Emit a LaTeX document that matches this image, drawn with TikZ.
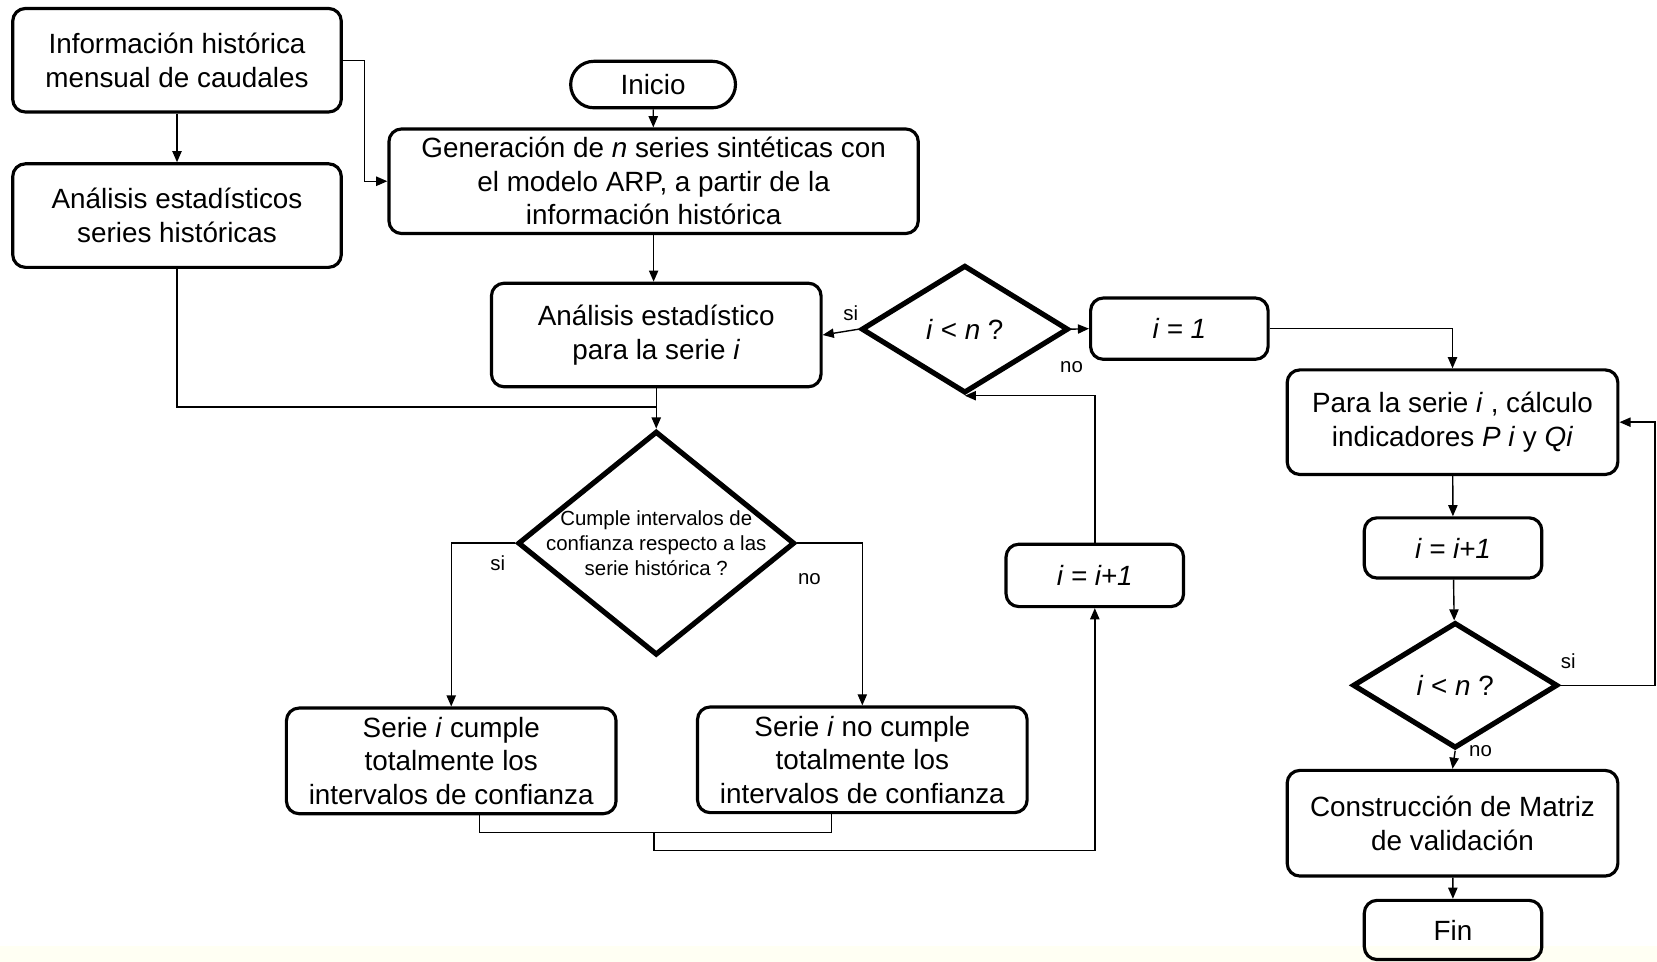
\documentclass[tikz,border=0pt]{standalone}
\usepackage{fontspec}
\setmainfont{Liberation Sans}
\usetikzlibrary{shapes.geometric,arrows.meta}
\begin{document}
\begin{tikzpicture}[x=0.02cm,y=-0.02cm,
  box/.style={draw,line width=1.7pt,rounded corners=0.24cm,align=center,inner sep=0pt,
    font=\fontsize{15}{18}\selectfont},
  dec/.style={draw,diamond,line width=2.8pt,inner sep=0pt,align=center,
    font=\fontsize{15}{18}\selectfont},
  conn/.style={line width=0.75pt},
  arr/.style={line width=0.75pt,-{Triangle[length=6pt,width=5pt]}},
  lab/.style={font=\fontsize{11}{13}\selectfont,inner sep=0pt}]
\useasboundingbox (0,0) rectangle (1568,910);
\fill[fill={rgb,255:red,255;green,255;blue,243}] (0,895) rectangle (1568,910);
% nodes
\node[box,minimum width=6.22cm,minimum height=1.96cm] (b1) at (167.5,57) {Información histórica\\mensual de caudales};
\node[box,minimum width=6.22cm,minimum height=1.96cm] (b2) at (167.5,204) {Análisis estadísticos\\series históricas};
\node[box,rounded corners=0.44cm,minimum width=3.12cm,minimum height=0.88cm] (ini) at (618,80) {Inicio};
\node[box,minimum width=10.02cm,minimum height=1.98cm] (gen) at (618.5,171.5) {Generación de \textit{n} series sintéticas con\\el modelo ARP, a partir de la\\información histórica};
\node[box,minimum width=6.24cm,minimum height=1.96cm] (ana) at (621,317) {Análisis estadístico\\para la serie \textit{i}};
\node[dec,minimum width=3.92cm,minimum height=2.42cm] (d1) at (913,311.5) {\textit{i} < \textit{n} ?};
\node[box,minimum width=3.36cm,minimum height=1.16cm] (i1) at (1116,311) {\textit{i = 1}};
\node[box,minimum width=6.26cm,minimum height=1.98cm] (para) at (1374.5,399.5) {Para la serie \textit{i} , cálculo\\indicadores \textit{P i} y \textit{Qi}};
\node[box,minimum width=3.36cm,minimum height=1.14cm] (inc2) at (1375,518.5) {\textit{i = i+1}};
\node[dec,minimum width=3.88cm,minimum height=2.38cm] (d3) at (1377,648.5) {\textit{i} < \textit{n} ?};
\node[box,minimum width=6.26cm,minimum height=2.0cm] (cons) at (1374.5,779) {Construcción de Matriz\\de validación};
\node[box,minimum width=3.36cm,minimum height=1.12cm] (fin) at (1375,880) {Fin};
\node[dec,minimum width=5.24cm,minimum height=4.24cm] (d2) at (621,514) {};
\node[align=center,inner sep=0pt,font=\fontsize{11}{13.6}\selectfont] (d2t) at (d2.center) {Cumple intervalos de\\confianza respecto a las\\serie histórica ?};
\node[box,minimum width=6.24cm,minimum height=2.0cm] (sc) at (427,720) {Serie \textit{i} cumple\\totalmente los\\intervalos de confianza};
\node[box,minimum width=6.24cm,minimum height=2.0cm] (snc) at (816,719) {Serie \textit{i} no cumple\\totalmente los\\intervalos de confianza};
\node[box,minimum width=3.36cm,minimum height=1.18cm] (inc1) at (1036,544.5) {\textit{i = i+1}};
% labels
\node[lab] (lsi1) at (805,296) {si};
\node[lab] (lno1) at (1014,347) {no};
\node[lab] (lsi2) at (471,533) {si};
\node[lab] (lno2) at (766,548) {no};
\node[lab] (lsi3) at (1484,626) {si};
\node[lab] (lno3) at (1401,711) {no};
% coordinates
\coordinate (k1) at (345,57);
\coordinate (j1) at (621,385);
\coordinate (ma) at (454,788);
\coordinate (mb) at (787,788);
\coordinate (mc) at (619,788);
\coordinate (md) at (619,805);
\coordinate (r3) at (1566,648.5);
% connectors
\draw[arr] (b1) -- (b2);
\draw[arr] (b1.east) -- (k1) |- (gen.west);
\draw[arr] (ini) -- (gen);
\draw[arr] (gen.south) -- (gen.south |- ana.north);
\draw[conn] (b2.south) |- (j1);
\draw[arr] (ana.south) -- (d2.north);
\draw[arr] (d1.west) -- (ana.east);
\draw[arr] (d1.east) -- (i1.west);
\draw[arr] (i1.east) -| (para.north);
\draw[arr] (para) -- (inc2);
\draw[arr] (inc2) -- (d3);
\draw[arr] (d3.south) -- (cons.north);
\draw[arr] (cons) -- (fin);
\draw[arr] (d3.east) -- (r3) |- (para.east);
\draw[arr] (d2.west) -| (sc.north);
\draw[arr] (d2.east) -| (snc.north);
\draw[conn] (ma |- sc.south) -- (ma) -- (mb) -- (mb |- snc.south);
\draw[arr] (mc) -- (md) -| (inc1.south);
\draw[arr] (inc1.north) |- (d1.south);
\end{tikzpicture}
\end{document}
